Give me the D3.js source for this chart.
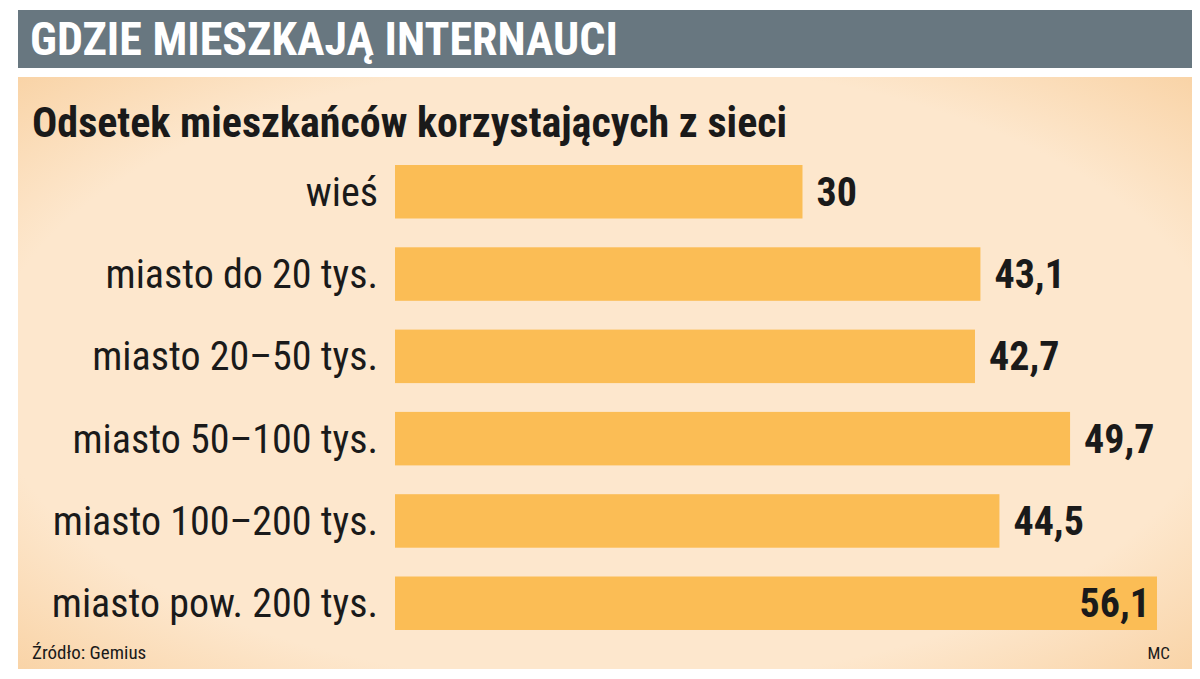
<!DOCTYPE html>
<html><head><meta charset="utf-8">
<script src="https://cdn.jsdelivr.net/npm/d3@7"></script>
<style>body{margin:0;background:#fff}</style>
</head><body>
<script>
var categories = ["wieś", "miasto do 20 tys.", "miasto 20–50 tys.", "miasto 50–100 tys.", "miasto 100–200 tys.", "miasto pow. 200 tys."];
var values = [30, 43.1, 42.7, 49.7, 44.5, 56.1];
var labels = ["30", "43,1", "42,7", "49,7", "44,5", "56,1"];

var W = 1200, H = 679;
var font = "'Liberation Sans Narrow','Roboto Condensed','DejaVu Sans Condensed',sans-serif";
var svg = d3.select("body").append("svg").attr("width", W).attr("height", H);

var defs = svg.append("defs");
var g1 = defs.append("radialGradient").attr("id", "bg").attr("cx", "50%").attr("cy", "50%").attr("r", "75%");
g1.append("stop").attr("offset", "70%").attr("stop-color", "#fde7cd");
g1.append("stop").attr("offset", "100%").attr("stop-color", "#f8cf9e");

svg.append("rect").attr("x", 18).attr("y", 10).attr("width", 1174).attr("height", 58).attr("fill", "#687780");
svg.append("text").attr("x", 30).attr("y", 55).attr("fill", "#fff").attr("font-family", font)
  .attr("font-weight", "bold").attr("font-size", 46).text("GDZIE MIESZKAJĄ INTERNAUCI");

svg.append("rect").attr("x", 18).attr("y", 77).attr("width", 1174).attr("height", 592).attr("fill", "url(#bg)");
svg.append("text").attr("x", 32).attr("y", 137).attr("fill", "#1a1a1a").attr("font-family", font)
  .attr("font-weight", "bold").attr("font-size", 42).text("Odsetek mieszkańców korzystających z sieci");

var x = d3.scaleLinear().domain([0, 56.1]).range([395, 1157]);
var y = d3.scaleBand().domain(categories).range([165, 630]).paddingInner(0.35).paddingOuter(0);

var row = svg.selectAll("g.row").data(categories).enter().append("g");
row.append("rect").attr("x", x(0)).attr("y", function(d){return y(d);})
  .attr("width", function(d,i){return x(values[i]) - x(0);}).attr("height", y.bandwidth())
  .attr("fill", "#fbbd55");
row.append("text").attr("x", 378).attr("y", function(d){return y(d) + y.bandwidth()/2 + 14;})
  .attr("text-anchor", "end").attr("font-family", font).attr("font-size", 40).attr("fill", "#1a1a1a")
  .text(function(d){return d;});
row.append("text")
  .attr("x", function(d,i){return i === 5 ? x(values[i]) - 7 : x(values[i]) + 14;})
  .attr("text-anchor", function(d,i){return i === 5 ? "end" : "start";})
  .attr("y", function(d){return y(d) + y.bandwidth()/2 + 14;})
  .attr("font-family", font).attr("font-weight", "bold").attr("font-size", 40).attr("fill", "#1a1a1a")
  .text(function(d,i){return labels[i];});

svg.append("text").attr("x", 32).attr("y", 659).attr("font-family", font).attr("font-size", 19).attr("fill", "#1a1a1a").text("Źródło: Gemius");
svg.append("text").attr("x", 1170).attr("y", 659).attr("text-anchor", "end").attr("font-family", font).attr("font-size", 17).attr("fill", "#1a1a1a").text("MC");
</script>
</body></html>
